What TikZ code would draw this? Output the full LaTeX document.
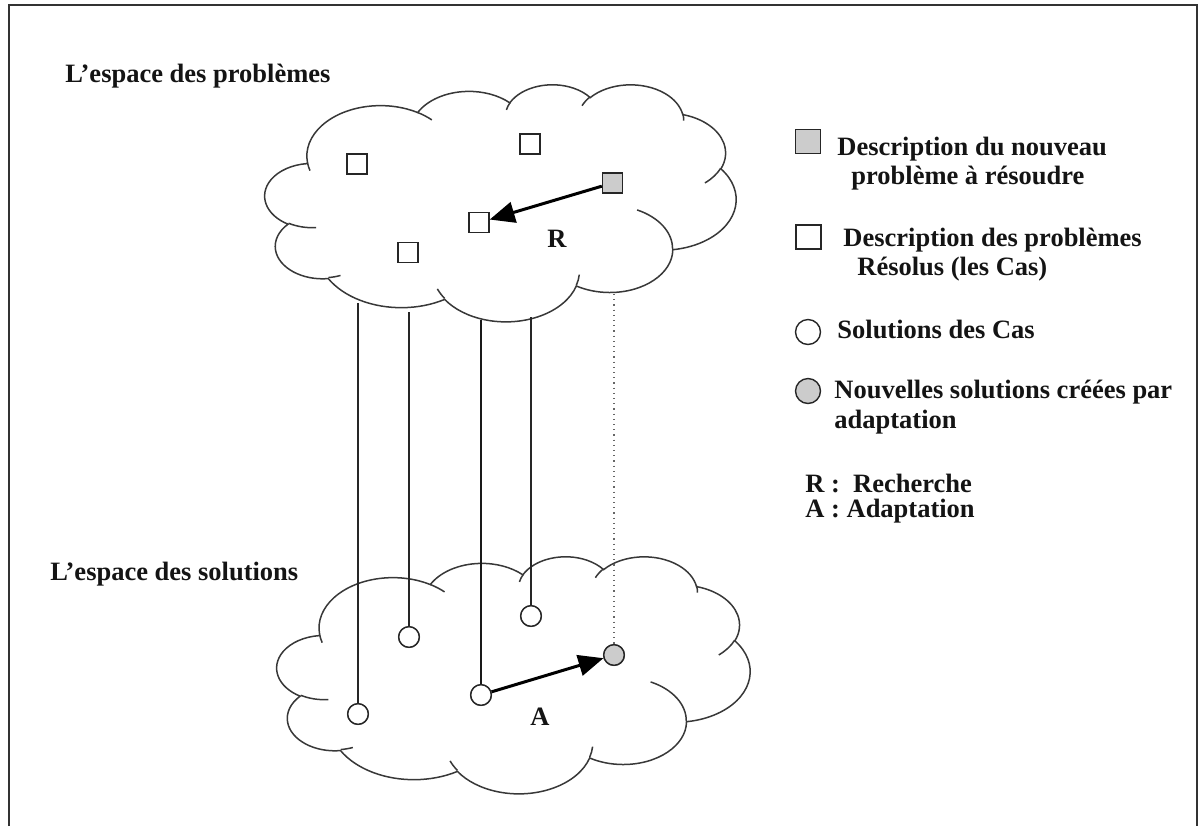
\documentclass[tikz,border=0pt]{standalone}
\usepackage{fontspec}
\setmainfont{Liberation Serif}
\usetikzlibrary{arrows.meta}

% Cloud outline (lobes + inner creases) in a 432 x 432 box, y pointing down.
% #1,#2 = left/top corner, #3,#4 = width/height (picture units)
\newcommand\cloudoutline[4]{%
  \pgfmathsetmacro\cldx{#3*0.5/432}%
  \pgfmathsetmacro\cldy{#4*0.5/432}%
  \begin{scope}[shift={(#1,#2)}, x=\cldx pt, y=-\cldy pt]
    \draw[cloudline, fill=white] (39,143.7)
      arc[start angle=-187.746, end angle=-59.64,  x radius=67.53, y radius=91.90]
      arc[start angle=-152.02,  end angle=-45.45,  x radius=53.33, y radius=72.67]
      arc[start angle=-153.49,  end angle=-37.33,  x radius=43.65, y radius=59.45]
      arc[start angle=-139.71,  end angle=-10.21,  x radius=48.57, y radius=65.95]
      arc[start angle=-74.77,   end angle=23.21,   x radius=53.33, y radius=72.73]
      arc[start angle=-37.53,   end angle=81.86,   x radius=67.75, y radius=92.20]
      arc[start angle=0.46,     end angle=121.97,  x radius=57.85, y radius=78.67]
      arc[start angle=16.84,    end angle=146.24,  x radius=67.52, y radius=92.15]
      arc[start angle=58.99,    end angle=150.18,  x radius=77.20, y radius=105.43]
      arc[start angle=83.31,    end angle=223.10,  x radius=43.60, y radius=59.18]
      arc[start angle=120.35,   end angle=264.11,  x radius=43.45, y radius=59.45]
      -- cycle;
    \draw[cloudline]
      (46.93,261.77)  arc[start angle=85.55,   end angle=120.35,  x radius=43.45, y radius=59.45]
      (69.28,348.99)  arc[start angle=68.24,   end angle=83.31,   x radius=43.60, y radius=59.18]
      (164.78,390.90) arc[start angle=146.24,  end angle=158.47,  x radius=67.52, y radius=92.15]
      (288.27,347.51) arc[start angle=4.74,    end angle=16.84,   x radius=67.52, y radius=92.15]
      (341.29,229.54) arc[start angle=-64.03,  end angle=0.46,    x radius=57.85, y radius=78.67]
      (417.98,153.54) arc[start angle=23.21,   end angle=49.64,   x radius=53.33, y radius=72.73]
      (383.24,54.26)  arc[start angle=-10.21,  end angle=0.82,    x radius=48.57, y radius=65.95]
      (290.78,39.52)  arc[start angle=-156.29, end angle=-139.71, x radius=48.57, y radius=65.95]
      (221.41,47.20)  arc[start angle=-167.73, end angle=-153.49, x radius=43.65, y radius=59.45]
      (140.00,51.92)  arc[start angle=-59.64,  end angle=-45.73,  x radius=67.53, y radius=91.90]
      (41.27,157.89)  arc[start angle=163.20,  end angle=172.255, x radius=67.53, y radius=91.90];
  \end{scope}%
}

\begin{document}
\begin{tikzpicture}[x=0.5pt, y=-0.5pt,
  lbl/.style={font=\fontsize{13.25}{16}\selectfont\bfseries, inner sep=0pt, text=black!92},
  cloudline/.style={draw=black!78, line width=0.75pt},
  cas/.style={draw=black!85, line width=0.7pt, minimum size=10pt, inner sep=0pt, fill=white},
  newcas/.style={cas, fill=black!20},
  keycas/.style={draw=black!85, line width=0.7pt, minimum width=12.5pt, minimum height=12pt, inner sep=0pt},
  sol/.style={circle, draw=black!85, line width=0.7pt, minimum size=10.3pt, inner sep=0pt, fill=white},
  newsol/.style={sol, fill=black!20},
  keysol/.style={circle, draw=black!85, line width=0.7pt, minimum size=12.5pt, inner sep=0pt},
  link/.style={draw=black!85, line width=0.8pt},
  biglink/.style={draw=black!90, line width=1.4pt},
  dotlink/.style={draw=black!60, line width=0.6pt, dotted},
  bigarrow/.style={draw=black, line width=1.5pt, -{Triangle[length=12.5pt, width=10.5pt]}}
]
\useasboundingbox (0,0) rectangle (1199,826);

% frame
\draw[black!80, line width=1pt] (9,826) -- (9,5) -- (1197,5) -- (1197,826);

% titles
\node[lbl, anchor=base west] (ttlprob) at (65,82) {L’espace des problèmes};
\node[lbl, anchor=base west] (ttlsol) at (50,580) {L’espace des solutions};

% the two clouds
\cloudoutline{265}{84}{471}{237}
\cloudoutline{277}{556}{473}{237}

% problem space
\node[cas] (p1) at (357,164) {};
\node[cas] (p2) at (530,144) {};
\node[newcas] (pn) at (612.5,183) {};
\node[cas] (p3) at (479,222.7) {};
\node[cas] (p4) at (408,252.7) {};
\draw[bigarrow] (pn) -- (p3);
\node[lbl, anchor=base] (rlab) at (557,247) {R};

% anchor points of the links on the upper cloud
\coordinate (t1) at (358,303);
\coordinate (t2) at (409,312);
\coordinate (t3) at (481,320);
\coordinate (t4) at (531,317);
\coordinate (t5) at (614,294);

% solution space
\node[sol] (s1) at (358,714) {};
\node[sol] (s2) at (409,637) {};
\node[sol] (s3) at (481,695) {};
\node[sol] (s4) at (531,616) {};
\node[newsol] (sn) at (614,655) {};

\draw[link] (t1) -- (s1);
\draw[link] (t2) -- (s2);
\draw[biglink] (t3) -- (s3);
\draw[link] (t4) -- (s4);
\draw[dotlink] (t5) -- (sn);
\node[sol] at (s1) {};
\node[sol] at (s2) {};
\node[sol] at (s3) {};
\node[sol] at (s4) {};
\node[newsol] at (sn) {};

\draw[bigarrow] (s3) -- (sn);
\node[lbl, anchor=base] (alab) at (540,725) {A};

% legend
\node[keycas, fill=black!20] (k1) at (808,141.5) {};
\node[lbl, anchor=base west] (k1a) at (837,155) {Description du nouveau};
\node[lbl, anchor=base west] (k1b) at (851,184) {problème à résoudre};

\node[keycas, fill=white] (k2) at (808.5,237) {};
\node[lbl, anchor=base west] (k2a) at (843,246) {Description des problèmes};
\node[lbl, anchor=base west] (k2b) at (857,275) {Résolus (les Cas)};

\node[keysol, fill=white] (k3) at (808,332) {};
\node[lbl, anchor=base west] (k3a) at (837,338) {Solutions des Cas};

\node[keysol, fill=black!20] (k4) at (808,391) {};
\node[lbl, anchor=base west] (k4a) at (834,398) {Nouvelles solutions créées par};
\node[lbl, anchor=base west] (k4b) at (834,428) {adaptation};

\node[lbl, anchor=base west] (k5) at (805,492) {R :\ \ Recherche};
\node[lbl, anchor=base west] (k6) at (805,517) {A : Adaptation};
\end{tikzpicture}
\end{document}
